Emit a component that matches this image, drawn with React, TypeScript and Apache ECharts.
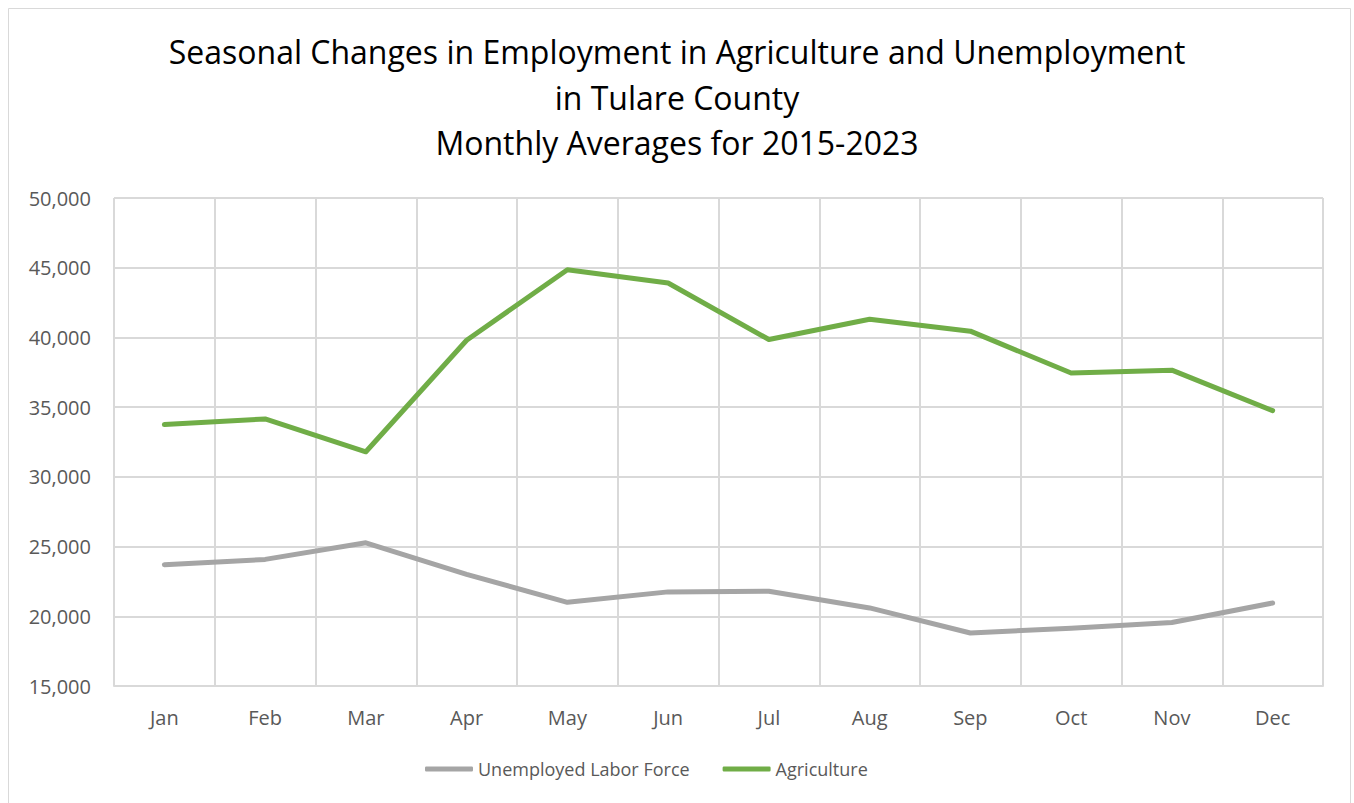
import React, { useEffect, useRef } from "react";
import * as echarts from "echarts";

const months = ["Jan", "Feb", "Mar", "Apr", "May", "Jun", "Jul", "Aug", "Sep", "Oct", "Nov", "Dec"];
const unemployed = [23700, 24080, 25270, 23000, 21000, 21750, 21800, 20600, 18800, 19150, 19550, 20950];
const agriculture = [33750, 34150, 31800, 39800, 44850, 43900, 39850, 41300, 40450, 37450, 37650, 34750];
const titleLines = [
  "Seasonal Changes in Employment in Agriculture and Unemployment",
  "in Tulare County",
  "Monthly Averages for 2015-2023",
];

export default function App() {
  const ref = useRef<HTMLDivElement>(null);
  useEffect(() => {
    if (!ref.current) return;
    const chart = echarts.init(ref.current, null, { renderer: "svg" });
    const font = "'Open Sans', 'Noto Sans', sans-serif";
    chart.setOption({
      animation: false,
      backgroundColor: "#ffffff",
      textStyle: { fontFamily: font },
      title: {
        text: titleLines.join("\n"),
        left: "center",
        top: 24,
        textStyle: {
          fontFamily: font,
          fontWeight: "normal",
          fontSize: 32,
          lineHeight: 45.5,
          color: "#000000",
        },
      },
      graphic: [
        {
          type: "rect",
          shape: { x: 8.5, y: 8.5, width: 1342, height: 810 },
          style: { fill: "none", stroke: "#d9d9d9", lineWidth: 1 },
          silent: true,
        },
      ],
      legend: {
        bottom: 20,
        left: 420,
        itemWidth: 48,
        itemHeight: 5,
        itemGap: 33,
        textStyle: { color: "#595959", fontSize: 18, fontFamily: font },
        icon: "roundRect",
        data: ["Unemployed Labor Force", "Agriculture"],
      },
      grid: { left: 114, right: 31, top: 198, bottom: 117 },
      xAxis: {
        type: "category",
        data: months,
        boundaryGap: true,
        axisLine: { show: true, lineStyle: { color: "#d9d9d9", width: 2 } },
        axisTick: { show: false },
        axisLabel: { color: "#595959", fontSize: 20, margin: 21, fontFamily: font },
        splitLine: { show: true, interval: 0, lineStyle: { color: "#d9d9d9", width: 2 } },
      },
      yAxis: {
        type: "value",
        min: 15000,
        max: 50000,
        interval: 5000,
        axisLine: { show: false },
        axisTick: { show: false },
        axisLabel: {
          color: "#595959",
          fontSize: 20,
          margin: 23,
          fontFamily: font,
          formatter: (v: number) => v.toLocaleString("en-US"),
        },
        splitLine: { show: true, lineStyle: { color: "#d9d9d9", width: 2 } },
      },
      series: [
        {
          name: "Unemployed Labor Force",
          type: "line",
          data: unemployed,
          showSymbol: false,
          symbol: "none",
          lineStyle: { color: "#a5a5a5", width: 5, cap: "round", join: "round" },
          itemStyle: { color: "#a5a5a5" },
        },
        {
          name: "Agriculture",
          type: "line",
          data: agriculture,
          showSymbol: false,
          symbol: "none",
          lineStyle: { color: "#70ad47", width: 5, cap: "round", join: "round" },
          itemStyle: { color: "#70ad47" },
        },
      ],
    });
    return () => chart.dispose();
  }, []);
  return (
    <div
      ref={ref}
      style={{ position: "fixed", left: 0, top: 0, width: 1354, height: 803 }}
    />
  );
}
